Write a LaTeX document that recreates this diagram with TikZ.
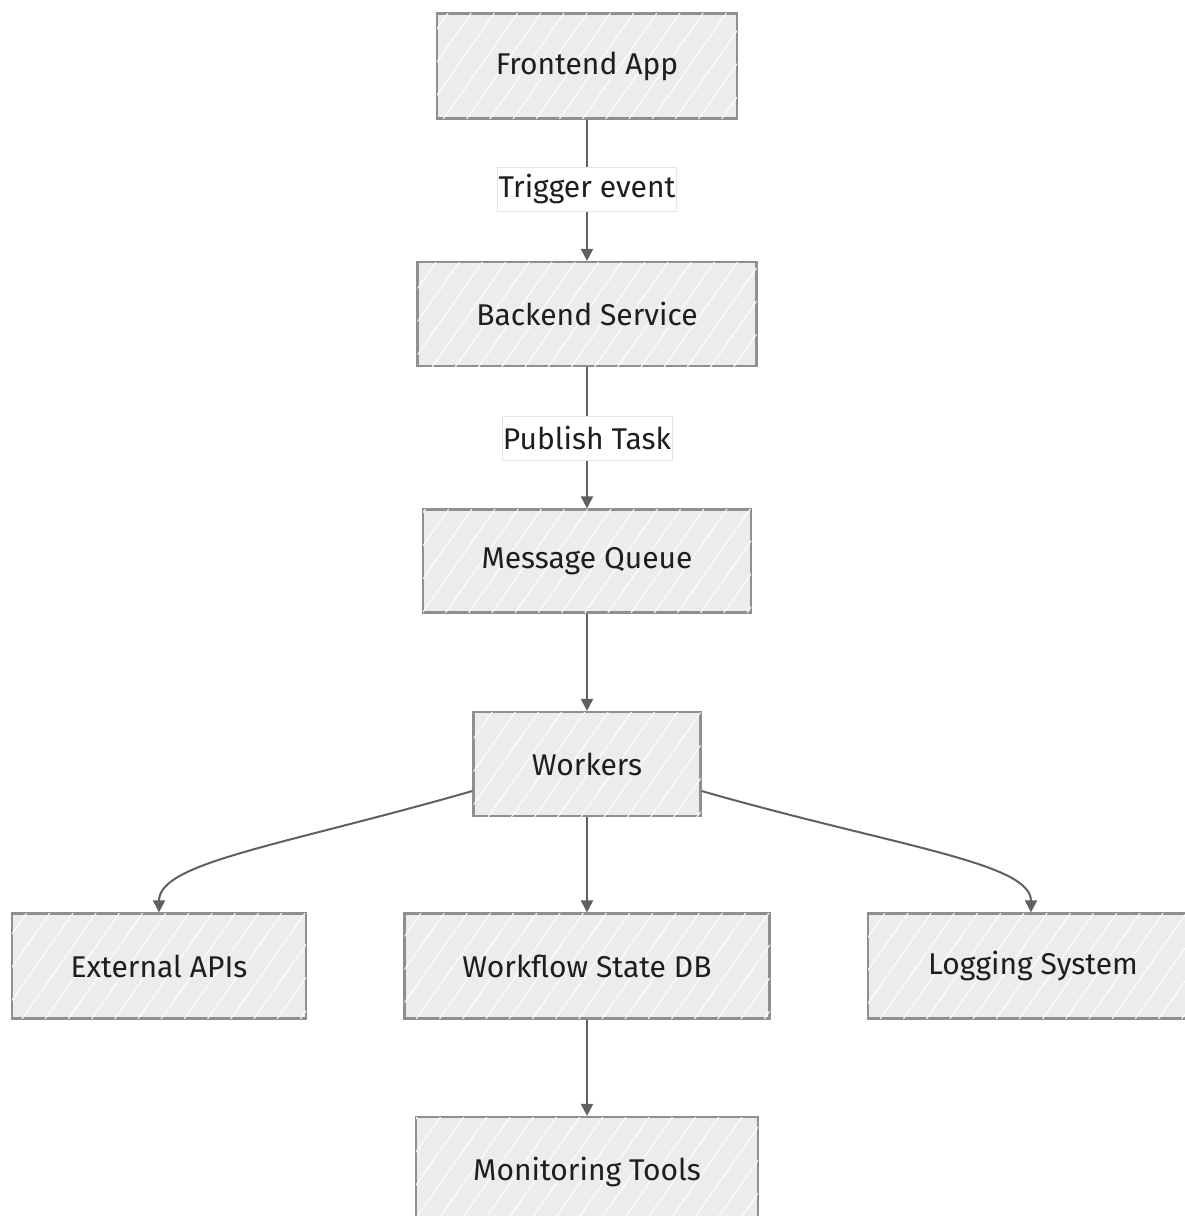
\documentclass[tikz,border=0pt]{standalone}
\usepackage{fontspec}
\setmainfont{Fira Sans}
\usetikzlibrary{patterns.meta,arrows.meta}
\definecolor{boxfill}{HTML}{ECECEC}
\definecolor{boxline}{HTML}{8F8F8F}
\definecolor{edgecol}{HTML}{606060}
\definecolor{txt}{HTML}{1E1E1E}
\tikzset{
  box/.style={draw=boxline, line width=2.2pt, fill=boxfill, rectangle, inner sep=0pt,
    text=txt, font=\fontsize{30}{36}\selectfont,
    postaction={pattern={Lines[angle=55,distance=19pt,line width=1pt]}, pattern color=white}},
  arr/.style={draw=edgecol, line width=2pt, -{Triangle[length=12pt,width=12pt]}},
  lbl/.style={fill=white, draw=black!10, line width=0.6pt, inner xsep=1pt, inner ysep=0pt,
    minimum height=44pt, text=txt, font=\fontsize{30}{36}\selectfont}
}
\begin{document}
\begin{tikzpicture}[x=1pt,y=-1pt]
\useasboundingbox (0,0) rectangle (1184,1216);
\node[box, minimum width=300pt, minimum height=105pt] (fe) at (587,66) {Frontend App};
\node[box, minimum width=339pt, minimum height=104pt] (be) at (587,314) {Backend Service};
\node[box, minimum width=328pt, minimum height=103pt] (mq) at (587,561) {Message Queue};
\node[box, minimum width=227pt, minimum height=104pt] (wk) at (587,764) {Workers};
\node[box, minimum width=294pt, minimum height=105pt] (ext) at (159,966) {External APIs};
\node[box, minimum width=365pt, minimum height=105pt] (db) at (587,966) {Workflow State DB};
\node[box, minimum width=330pt, minimum height=105pt] (log) at (1033,966) {Logging System};
\node[box, minimum width=342pt, minimum height=110pt] (mon) at (587,1172) {Monitoring Tools};
\draw[arr] (fe) -- (be);
\draw[arr] (be) -- (mq);
\draw[arr] (mq) -- (wk);
\draw[arr] (wk) -- (db);
\draw[arr] (db) -- (mon);
\draw[arr] ([yshift=-27pt]wk.west) .. controls +(196:200pt) and +(0,-50) .. (ext.north);
\draw[arr] ([yshift=-27pt]wk.east) .. controls +(-16:200pt) and +(0,-50) .. ([xshift=-2pt]log.north);
\node[lbl] (l1) at (587,189) {Trigger event};
\node[lbl] (l2) at (587,438) {Publish Task};
\end{tikzpicture}
\end{document}
